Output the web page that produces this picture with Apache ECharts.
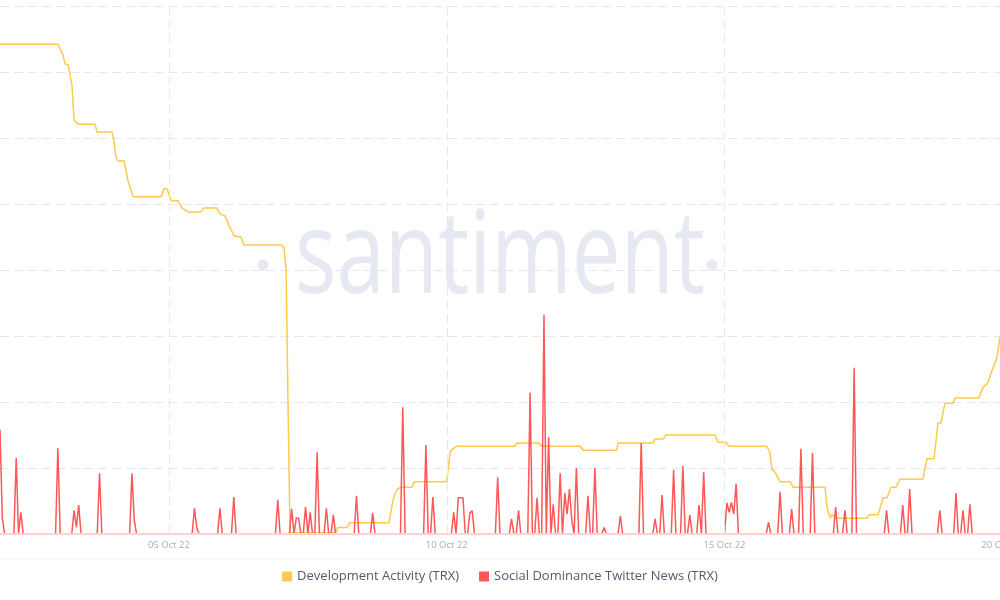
<!DOCTYPE html>
<html>
<head>
<meta charset="utf-8">
<script src="https://cdn.jsdelivr.net/npm/echarts@6/dist/echarts.min.js"></script>
<style>
html,body{margin:0;padding:0;background:#fff;}
#chart{width:1000px;height:600px;}
</style>
</head>
<body>
<div id="chart"></div>
<script>
// Hours counted from 01 Oct 2022 23:00 (hourly data)
const seriesNames = ['Development Activity (TRX)', 'Social Dominance Twitter News (TRX)'];
const xTickHours = [73, 193, 313, 433];
const xTickLabels = ['05 Oct 22', '10 Oct 22', '15 Oct 22', '20 Oct 22'];
const totalHours = 432;

// Development Activity: [hour, value]
const devActivity = [
  [0,7.42],[25.1,7.42],[27.2,7.26],[28.1,7.12],[29.4,7.11],[31.1,6.80],[32.0,6.27],[33.7,6.21],
  [41.0,6.21],[41.9,6.09],[48.4,6.09],[49.2,5.97],[50.1,5.70],[51.0,5.65],[53.6,5.65],[55.3,5.35],
  [57.5,5.11],[69.6,5.11],[70.8,5.23],[72.1,5.23],[73.9,5.05],[76.9,5.05],[78.6,4.94],[81.2,4.88],
  [86.8,4.88],[88.1,4.94],[93.7,4.94],[95.0,4.85],[97.2,4.82],[98.9,4.68],[101.1,4.52],[104.1,4.50],
  [105.4,4.38],[121.8,4.38],[122.7,4.33],[123.6,4.00],[124.4,2.03],[125.3,0.02],[145.0,0.02],
  [146.0,0.10],[150.0,0.10],[151.0,0.17],[168.0,0.17],[170.0,0.55],[171.5,0.67],[173.0,0.71],
  [178.0,0.71],[179.0,0.79],[193.0,0.79],[194.4,1.24],[195.7,1.29],[197.4,1.33],[222.5,1.33],
  [223.3,1.38],[232.8,1.38],[234.1,1.33],[250.6,1.33],[251.9,1.27],[266.5,1.27],[267.0,1.38],
  [282.1,1.38],[283.0,1.44],[286.4,1.44],[287.7,1.50],[308.9,1.50],[310.2,1.39],[313.6,1.39],
  [314.9,1.33],[331.3,1.33],[332.6,1.24],[333.5,0.98],[334.8,0.94],[337.0,0.79],[341.3,0.79],
  [342.6,0.71],[356.4,0.71],[357.3,0.41],[358.6,0.24],[359.4,0.30],[360.7,0.24],[374.5,0.24],
  [375.4,0.29],[379.3,0.29],[381.5,0.55],[383.2,0.55],[384.9,0.71],[387.1,0.71],[388.8,0.83],
  [398.7,0.83],[400.5,1.14],[403.5,1.14],[405.2,1.68],[406.5,1.68],[408.2,1.98],[411.7,1.98],
  [412.6,2.06],[422.9,2.06],[424.7,2.23],[426.4,2.27],[429.0,2.52],[430.7,2.67],[432.0,2.98]
];

// Social Dominance: non-zero hours [hour, value]; every other hour reads 0
const socialNonZero = [
  [0,1.58],[1,0.24],[7,1.15],[9,0.33],[25,1.30],[32,0.36],[33,0.10],[34,0.44],[43,0.92],
  [57,0.92],[58,0.21],[84,0.39],[85,0.10],[95,0.39],[101,0.56],[120,0.52],[126,0.38],
  [128,0.24],[129,0.24],[132,0.41],[134,0.33],[137,1.24],[141,0.39],[144,0.29],[154,0.58],
  [161,0.32],[174,1.92],[184,1.35],[187,0.56],[196,0.33],[198,0.55],[199,0.55],[200,0.55],
  [203,0.32],[204,0.35],[215,0.86],[221,0.23],[224,0.36],[229,2.14],[232,0.55],[235,3.32],
  [237,1.47],[239,0.45],[242,0.92],[244,0.62],[245,0.30],[246,0.68],[247,0.21],[249,1.00],
  [254,0.58],[257,1.00],[261,0.10],[268,0.27],[277,1.38],[283,0.23],[286,0.59],[291,0.97],
  [295,1.03],[298,0.29],[302,0.44],[304,0.94],[314,0.47],[315,0.33],[316,0.48],[317,0.30],
  [318,0.76],[332,0.18],[337,0.64],[342,0.38],[346,1.29],[351,1.23],[361,0.41],[365,0.36],
  [369,2.52],[383,0.36],[390,0.44],[393,0.68],[406,0.36],[413,0.62],[416,0.36],[419,0.45]
];

const socialMap = new Map(socialNonZero.map(p => [p[0], p[1]]));
const socialData = [];
for (let h = 0; h <= totalHours; h++) socialData.push([h, socialMap.has(h) ? socialMap.get(h) : 0]);

const chart = echarts.init(document.getElementById('chart'), null, {renderer: 'canvas'});
const gridLine = '#e4e7f0';
const wm = '#e6e8f2';
const option = {
  backgroundColor: '#ffffff',
  animation: false,
  graphic: [
    {type: 'text', z: 0, left: 'center', top: 202, style: {text: 'santiment', font: '500 116px "Open Sans"', fill: wm}, scaleX: 0.75, originX: 492},
    {type: 'circle', z: 0, shape: {cx: 263, cy: 265, r: 5.5}, style: {fill: wm}},
    {type: 'circle', z: 0, shape: {cx: 712, cy: 265, r: 5.5}, style: {fill: wm}},
    {type: 'line', z: 0, shape: {x1: 0, y1: 559, x2: 1000, y2: 559}, style: {stroke: '#f2f3f7', lineWidth: 1}}
  ],
  grid: {left: 0, right: -2.3, top: 6, bottom: 66, containLabel: false, outerBoundsMode: 'none'},
  legend: {
    bottom: 12, left: 'center', icon: 'rect', itemWidth: 10, itemHeight: 10, itemGap: 20,
    textStyle: {color: '#55596d', fontSize: 13, fontFamily: 'Open Sans'},
    data: seriesNames
  },
  xAxis: {
    type: 'value', min: 0, max: 433, z: 5,
    axisLine: {show: true, lineStyle: {color: '#ffd3d3', width: 2}},
    axisTick: {show: false, customValues: xTickHours},
    axisLabel: {
      customValues: xTickHours, color: '#a5adc6', fontSize: 9.5, fontFamily: 'Open Sans', margin: 6,
      formatter: v => { const i = xTickHours.indexOf(v); return i >= 0 ? xTickLabels[i] : ''; }
    },
    splitLine: {show: true, lineStyle: {color: gridLine, type: [9, 5], width: 1}}
  },
  yAxis: {
    type: 'value', min: 0, max: 8, interval: 1,
    axisLine: {show: false}, axisTick: {show: false}, axisLabel: {show: false},
    splitLine: {show: true, lineStyle: {color: gridLine, type: [9, 5], width: 1}}
  },
  series: [
    {name: seriesNames[0], type: 'line', data: devActivity, showSymbol: false, symbol: 'none',
     color: '#ffc94a', lineStyle: {color: '#ffc94a', width: 1.5}, z: 2},
    {name: seriesNames[1], type: 'line', data: socialData, showSymbol: false, symbol: 'none',
     color: '#ff5757', lineStyle: {color: '#ff5757', width: 1.5}, z: 3}
  ]
};
chart.setOption(option);
</script>
</body>
</html>
